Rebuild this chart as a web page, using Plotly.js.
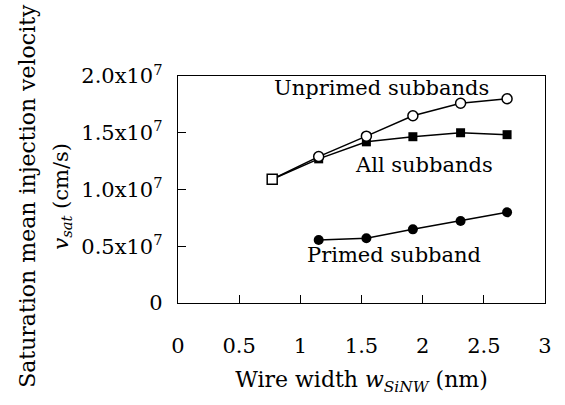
<!DOCTYPE html>
<html>
<head>
<meta charset="utf-8">
<script src="https://cdn.plot.ly/plotly-3.0.1.min.js"></script>
<style>html,body{margin:0;padding:0;background:#fff;}#chart{width:565px;height:405px;}</style>
</head>
<body>
<div id="chart"></div>
<script>
const widths = [0.77, 1.15, 1.54, 1.92, 2.31, 2.69];
const unprimed = [1.09e7, 1.29e7, 1.47e7, 1.65e7, 1.76e7, 1.80e7];
const allSub = [1.09e7, 1.27e7, 1.42e7, 1.465e7, 1.50e7, 1.483e7];
const primedX = [1.15, 1.54, 1.92, 2.31, 2.69];
const primed = [0.555e7, 0.57e7, 0.649e7, 0.722e7, 0.799e7];
const yTickVals = [0, 0.5e7, 1.0e7, 1.5e7, 2.0e7];
const yTickText = ['0', '0.5x10<sup>7</sup>', '1.0x10<sup>7</sup>', '1.5x10<sup>7</sup>', '2.0x10<sup>7</sup>'];
const xTickVals = [0, 0.5, 1, 1.5, 2, 2.5, 3];
const xTickText = ['0', '0.5', '1', '1.5', '2', '2.5', '3'];

const FONT = 'DejaVu Serif';
const FS = 21;
const traces = [
  {x: widths, y: allSub, mode: 'lines+markers', line: {color: '#000', width: 1.5},
   marker: {symbol: 'square', size: 9, color: '#000'}},
  {x: widths, y: unprimed, mode: 'lines+markers', line: {color: '#000', width: 1.5},
   marker: {symbol: ['square', 'circle', 'circle', 'circle', 'circle', 'circle'], size: 10, color: '#fff', line: {color: '#000', width: 1.5}}},
  {x: primedX, y: primed, mode: 'lines+markers', line: {color: '#000', width: 1.5},
   marker: {symbol: 'circle', size: 10, color: '#000'}}
];

const layout = {
  width: 565, height: 405,
  margin: {l: 178, r: 20, t: 76, b: 102},
  paper_bgcolor: '#fff', plot_bgcolor: '#fff',
  showlegend: false,
  font: {family: FONT, size: FS, color: '#000'},
  xaxis: {range: [0, 3], tickvals: xTickVals, ticktext: xTickText, ticks: 'inside', ticklen: 8,
    tickcolor: '#000', showline: true, linecolor: '#000', linewidth: 1.2, mirror: true,
    showgrid: false, zeroline: false, ticklabelstandoff: 24,
    tickfont: {family: FONT, size: FS, color: '#000'},
    title: {text: 'Wire width <i>w</i><sub><i>SiNW</i></sub> (nm)', font: {family: FONT, size: 22, color: '#000'}, standoff: 14}},
  yaxis: {range: [0, 2e7], tickvals: yTickVals, ticktext: yTickText, ticks: 'inside', ticklen: 8,
    tickcolor: '#000', showline: true, linecolor: '#000', linewidth: 1.2, mirror: true,
    showgrid: false, zeroline: false, ticklabelstandoff: 10,
    tickfont: {family: FONT, size: FS, color: '#000'}},
  annotations: [
    {x: 1.666, y: 1.896e7, text: 'Unprimed subbands', showarrow: false, font: {family: FONT, size: FS, color: '#000'}},
    {x: 2.01, y: 1.217e7, text: 'All subbands', showarrow: false, font: {family: FONT, size: FS, color: '#000'}},
    {x: 1.766, y: 0.423e7, text: 'Primed subband', showarrow: false, font: {family: FONT, size: FS, color: '#000'}},
    {xref: 'paper', yref: 'paper', x: -0.41, y: 0.47, xanchor: 'center', yanchor: 'middle',
     text: 'Saturation mean injection velocity', textangle: -90, showarrow: false, font: {family: FONT, size: 22, color: '#000'}},
    {xref: 'paper', yref: 'paper', x: -0.315, y: 0.47, xanchor: 'center', yanchor: 'middle',
     text: '<i>v</i><sub><i>sat</i></sub> (cm/s)', textangle: -90, showarrow: false, font: {family: FONT, size: 21, color: '#000'}}
  ]
};
Plotly.newPlot('chart', traces, layout, {displayModeBar: false, staticPlot: true});
</script>
</body>
</html>
